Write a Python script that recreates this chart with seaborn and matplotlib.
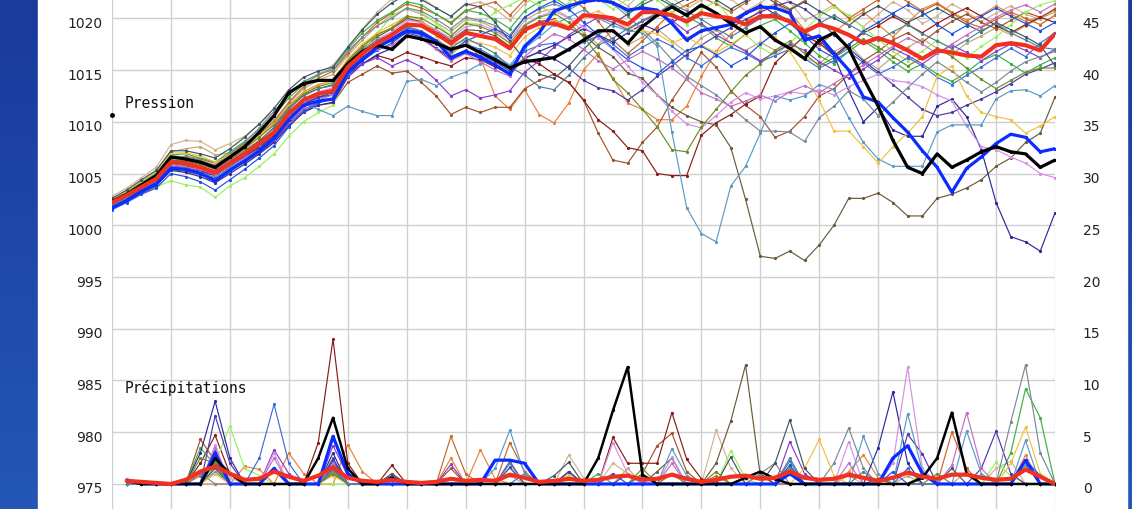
import numpy as np
import pandas as pd
import matplotlib
matplotlib.use("Agg")
import matplotlib.pyplot as plt
import matplotlib.transforms as mtransforms
from matplotlib.colors import LinearSegmentedColormap
import seaborn as sns

# forecast steps (6h), 0..64
steps = list(range(65))
precip_steps = list(range(1, 65))

# ---- pressure (hPa) ----
mean_p = [1002.2, 1002.9, 1003.7, 1004.5, 1006.1, 1006.0, 1005.6, 1005.1, 1006.0, 1006.9, 1007.9, 1009.0, 1010.8,
          1012.1, 1012.7, 1013.0, 1015.3, 1016.6, 1017.6, 1018.4, 1019.4, 1019.3, 1018.5, 1017.6, 1018.6, 1018.3,
          1018.0, 1017.1, 1018.9, 1019.5, 1019.5, 1019.0, 1020.3, 1020.2, 1020.0, 1019.4, 1020.6, 1020.6, 1020.3,
          1019.7, 1020.5, 1020.2, 1020.0, 1019.4, 1020.2, 1020.2, 1019.7, 1018.7, 1019.4, 1019.0, 1018.4, 1017.6,
          1018.1, 1017.6, 1016.9, 1016.1, 1016.9, 1016.7, 1016.4, 1016.3, 1017.4, 1017.6, 1017.4, 1016.9, 1018.5]
control_p = [1002.3, 1003.0, 1003.9, 1004.8, 1006.6, 1006.4, 1006.1, 1005.6, 1006.6, 1007.6, 1009.0, 1010.6, 1012.8,
             1013.7, 1014.0, 1014.0, 1015.6, 1016.8, 1017.4, 1017.0, 1018.3, 1018.0, 1017.6, 1017.0, 1017.4, 1016.7,
             1016.0, 1015.2, 1015.8, 1016.0, 1016.2, 1017.0, 1017.9, 1018.8, 1018.8, 1017.6, 1019.2, 1020.3, 1021.1,
             1020.3, 1021.3, 1020.5, 1019.5, 1018.6, 1019.2, 1017.9, 1017.1, 1016.1, 1017.9, 1018.6, 1017.1, 1014.2,
             1011.5, 1008.2, 1005.6, 1005.0, 1006.9, 1005.6, 1006.3, 1007.1, 1007.6, 1007.1, 1006.9, 1005.6, 1006.3]
oper_p = [1001.7, 1002.4, 1003.3, 1004.0, 1005.5, 1005.4, 1005.0, 1004.3, 1005.3, 1006.2, 1007.2, 1008.4, 1010.2,
          1011.6, 1012.0, 1012.2, 1014.8, 1016.0, 1017.2, 1018.0, 1018.8, 1018.6, 1017.8, 1016.2, 1016.8, 1016.2,
          1015.5, 1014.6, 1017.3, 1018.6, 1020.7, 1021.2, 1021.6, 1021.8, 1021.5, 1020.8, 1021.0, 1020.8, 1019.5,
          1017.9, 1018.8, 1019.1, 1019.4, 1020.5, 1021.1, 1021.0, 1020.5, 1017.9, 1018.3, 1016.6, 1015.0, 1012.4,
          1011.9, 1010.4, 1009.0, 1007.2, 1005.6, 1003.2, 1005.5, 1006.6, 1007.9, 1008.8, 1008.5, 1007.1, 1007.4]

tan_p = [1002.8, 1003.6, 1004.6, 1005.6, 1007.8, 1008.2, 1008.1, 1007.3, 1007.9, 1008.6, 1009.8, 1011.0, 1012.6,
         1013.8, 1014.6, 1015.5, 1017.2, 1019.0, 1020.6, 1021.9, 1022.4, 1022.0, 1021.0, 1020.2, 1021.3, 1021.6,
         1020.9, 1019.8, 1021.4, 1022.3, 1022.8, 1021.9, 1022.6, 1023.0, 1022.1, 1021.2, 1022.5, 1023.1, 1022.0,
         1020.9, 1021.8, 1022.6, 1021.9, 1020.7, 1021.5, 1022.4, 1021.6, 1019.8, 1020.5, 1021.3, 1020.1, 1019.2,
         1020.4, 1021.6, 1020.8, 1019.5, 1020.2, 1021.4, 1020.6, 1019.7, 1020.5, 1021.2, 1020.4, 1019.9, 1021.0]
khaki_p = [1002.6, 1003.3, 1004.2, 1005.1, 1007.1, 1007.4, 1007.6, 1006.8, 1007.0, 1007.8, 1008.9, 1010.2, 1011.8,
           1013.2, 1014.0, 1014.6, 1016.4, 1017.9, 1019.3, 1020.3, 1020.9, 1020.4, 1019.6, 1018.7, 1019.9, 1019.7,
           1019.0, 1017.9, 1019.8, 1020.6, 1020.9, 1020.1, 1018.6, 1017.5, 1018.9, 1017.4, 1018.2, 1019.0, 1017.8,
           1016.7, 1018.1, 1018.9, 1017.6, 1016.9, 1017.7, 1016.9, 1017.4, 1016.2, 1015.6, 1016.8, 1017.5, 1016.0,
           1015.1, 1016.3, 1017.2, 1018.0, 1017.1, 1016.5, 1017.6, 1018.3, 1019.1, 1018.4, 1019.3, 1020.0, 1020.6]
orange_p = [1002.4, 1003.1, 1004.0, 1004.8, 1006.5, 1006.5, 1006.2, 1005.6, 1006.5, 1007.4, 1008.6, 1009.8, 1011.6,
            1012.9, 1013.6, 1014.0, 1016.0, 1017.4, 1018.5, 1019.0, 1019.9, 1019.6, 1018.6, 1017.4, 1017.9, 1016.2,
            1012.5, 1011.2, 1013.1, 1010.7, 1009.9, 1011.8, 1015.0, 1016.6, 1014.2, 1011.8, 1011.2, 1010.2, 1010.2,
            1011.5, 1014.4, 1016.8, 1018.5, 1019.6, 1020.8, 1021.4, 1020.6, 1018.9, 1017.4, 1018.6, 1019.8, 1020.6,
            1019.4, 1018.2, 1019.6, 1020.9, 1021.5, 1020.6, 1019.8, 1020.3, 1021.2, 1020.4, 1019.7, 1020.1, 1020.8]
choco_p = [1002.0, 1002.8, 1003.8, 1004.7, 1006.4, 1006.7, 1006.4, 1006.0, 1006.9, 1007.9, 1008.8, 1010.0, 1011.9,
           1013.4, 1014.2, 1014.9, 1016.6, 1018.2, 1019.6, 1020.5, 1021.4, 1021.0, 1020.4, 1019.5, 1020.7, 1021.2,
           1021.6, 1020.3, 1021.8, 1022.5, 1023.0, 1022.2, 1021.0, 1019.7, 1017.9, 1016.6, 1017.8, 1019.2, 1020.6,
           1021.3, 1022.0, 1021.4, 1020.6, 1021.5, 1022.3, 1021.8, 1020.9, 1021.7, 1022.4, 1021.2, 1020.0, 1020.9,
           1021.8, 1022.4, 1021.6, 1020.7, 1021.4, 1020.5, 1019.6, 1019.1, 1019.9, 1020.6, 1020.0, 1019.4, 1020.3]
sienna_p = [1001.9, 1002.6, 1003.3, 1004.0, 1005.4, 1005.2, 1004.9, 1004.4, 1005.3, 1006.1, 1007.0, 1008.1, 1009.8,
            1011.0, 1011.6, 1011.8, 1013.8, 1014.6, 1015.4, 1014.7, 1014.9, 1013.8, 1012.5, 1010.7, 1011.4, 1010.9,
            1011.4, 1011.4, 1013.2, 1014.0, 1014.6, 1013.8, 1012.1, 1008.9, 1006.3, 1006.0, 1008.0, 1009.5, 1012.1,
            1014.2, 1016.7, 1015.3, 1013.0, 1011.6, 1010.5, 1008.5, 1009.1, 1010.5, 1012.5, 1013.2, 1014.6, 1015.9,
            1016.8, 1017.9, 1018.6, 1017.7, 1018.8, 1019.7, 1020.4, 1019.6, 1019.0, 1019.8, 1020.6, 1020.1, 1020.9]
maroon_p = [1002.1, 1002.8, 1003.6, 1004.3, 1005.9, 1005.8, 1005.3, 1004.8, 1005.8, 1006.7, 1007.6, 1008.7, 1010.4,
            1011.7, 1012.4, 1012.6, 1014.6, 1015.6, 1016.4, 1016.0, 1016.7, 1016.3, 1015.8, 1015.4, 1016.2, 1016.0,
            1015.3, 1014.7, 1016.1, 1015.6, 1014.6, 1013.8, 1012.1, 1010.2, 1009.1, 1007.5, 1007.2, 1005.0, 1004.8,
            1004.8, 1008.7, 1009.9, 1010.7, 1011.7, 1012.5, 1015.7, 1017.0, 1018.3, 1017.6, 1016.4, 1017.5, 1018.6,
            1019.3, 1020.2, 1019.4, 1018.6, 1019.5, 1020.3, 1021.0, 1020.2, 1019.3, 1018.6, 1019.4, 1020.1, 1019.6]
olive_p = [1002.3, 1003.0, 1003.9, 1004.7, 1006.3, 1006.2, 1005.9, 1005.4, 1006.3, 1007.2, 1008.2, 1009.4, 1011.2,
           1012.6, 1013.2, 1013.6, 1015.8, 1017.1, 1018.2, 1019.0, 1020.0, 1019.7, 1018.8, 1017.9, 1018.9, 1018.8,
           1018.3, 1017.3, 1018.8, 1019.7, 1019.9, 1019.1, 1018.4, 1017.2, 1016.3, 1014.7, 1014.2, 1012.6, 1011.4,
           1010.6, 1010.0, 1009.7, 1007.5, 1002.5, 997.0, 996.8, 997.5, 996.6, 998.1, 1000.0, 1002.6, 1002.6,
           1003.1, 1002.2, 1000.9, 1000.9, 1002.6, 1003.0, 1003.6, 1004.4, 1005.7, 1006.5, 1008.0, 1008.9, 1012.4]
green_p = [1002.5, 1003.2, 1004.1, 1005.0, 1006.8, 1006.9, 1006.5, 1006.1, 1007.1, 1008.1, 1009.3, 1010.6, 1012.3,
           1013.6, 1014.5, 1015.2, 1017.0, 1018.6, 1019.8, 1020.6, 1021.6, 1021.3, 1020.4, 1019.6, 1020.8, 1020.5,
           1019.9, 1019.0, 1020.7, 1021.6, 1022.0, 1021.1, 1021.9, 1022.4, 1021.6, 1020.5, 1021.6, 1022.3, 1021.4,
           1020.2, 1019.4, 1018.1, 1017.3, 1018.5, 1019.3, 1019.9, 1018.8, 1017.6, 1016.4, 1015.6, 1016.8, 1017.8,
           1016.9, 1015.8, 1014.9, 1015.6, 1014.6, 1013.9, 1014.8, 1015.9, 1016.5, 1015.6, 1014.7, 1015.5, 1016.2]
lime_p = [1002.0, 1002.5, 1003.2, 1003.7, 1004.3, 1003.9, 1003.7, 1002.7, 1003.8, 1004.6, 1005.7, 1006.9, 1008.6,
          1010.0, 1010.9, 1011.6, 1014.6, 1016.8, 1018.6, 1020.2, 1021.0, 1020.6, 1019.5, 1018.3, 1019.6, 1019.4,
          1020.6, 1021.3, 1022.0, 1021.2, 1020.4, 1021.5, 1022.6, 1021.8, 1020.9, 1021.9, 1022.8, 1021.8, 1020.6,
          1019.4, 1020.8, 1021.7, 1019.9, 1018.4, 1017.2, 1016.4, 1017.6, 1018.9, 1020.2, 1021.1, 1020.3, 1019.1,
          1018.0, 1016.8, 1015.9, 1016.8, 1017.9, 1017.0, 1016.2, 1017.3, 1018.2, 1019.4, 1020.6, 1021.3, 1021.7]
midblue_p = [1001.8, 1002.5, 1003.4, 1004.1, 1005.6, 1005.5, 1005.1, 1004.6, 1005.5, 1006.4, 1007.4, 1008.5, 1010.3,
             1011.6, 1012.3, 1012.6, 1014.9, 1016.2, 1017.3, 1018.0, 1019.1, 1018.7, 1017.8, 1016.6, 1017.5, 1017.0,
             1016.2, 1015.3, 1016.8, 1017.4, 1017.6, 1016.9, 1017.7, 1018.3, 1017.5, 1016.3, 1017.2, 1018.0, 1017.3,
             1016.2, 1015.4, 1016.4, 1017.2, 1016.6, 1015.8, 1016.4, 1017.0, 1016.1, 1015.2, 1015.9, 1016.8, 1015.7,
             1014.6, 1015.3, 1016.2, 1015.4, 1014.3, 1013.6, 1014.5, 1015.3, 1016.2, 1017.1, 1016.3, 1017.6, 1018.6]
darkblue_p = [1001.6, 1002.3, 1003.1, 1003.8, 1005.3, 1005.1, 1004.7, 1004.1, 1005.0, 1005.9, 1006.9, 1008.0, 1009.6,
              1010.9, 1011.6, 1011.9, 1014.3, 1015.6, 1016.5, 1017.1, 1018.3, 1018.0, 1017.1, 1016.0, 1016.7, 1016.3,
              1015.5, 1014.6, 1016.1, 1016.8, 1017.4, 1018.2, 1019.0, 1018.4, 1017.7, 1018.6, 1019.4, 1018.8, 1019.6,
              1020.4, 1021.2, 1020.5, 1019.8, 1020.6, 1021.3, 1020.4, 1019.6, 1018.5, 1017.9, 1016.4, 1013.0, 1010.0,
              1011.4, 1009.2, 1008.6, 1008.6, 1011.5, 1012.2, 1010.5, 1007.3, 1002.2, 998.9, 998.4, 997.5, 1001.2]
indigo_p = [1001.7, 1002.4, 1003.2, 1004.0, 1005.7, 1005.6, 1005.2, 1004.8, 1005.7, 1006.6, 1007.5, 1008.6, 1010.4,
            1011.8, 1012.4, 1012.8, 1015.0, 1016.3, 1017.2, 1017.8, 1018.6, 1018.2, 1017.1, 1016.3, 1016.9, 1016.4,
            1015.8, 1014.9, 1016.2, 1016.7, 1016.1, 1015.2, 1014.0, 1013.3, 1013.0, 1012.1, 1013.1, 1014.4, 1015.4,
            1016.5, 1017.4, 1018.3, 1019.1, 1019.9, 1020.6, 1021.2, 1021.6, 1020.9, 1019.8, 1018.4, 1017.1, 1015.9,
            1014.8, 1013.6, 1012.4, 1011.2, 1010.6, 1010.9, 1011.6, 1012.2, 1012.9, 1013.7, 1014.6, 1015.1, 1015.7]
purple_p = [1002.0, 1002.7, 1003.5, 1004.2, 1005.7, 1005.4, 1005.0, 1004.4, 1005.3, 1006.2, 1007.1, 1008.2, 1009.9,
            1011.2, 1011.9, 1012.2, 1014.4, 1015.6, 1016.2, 1015.4, 1016.0, 1015.3, 1014.0, 1012.5, 1013.1, 1012.3,
            1012.6, 1013.0, 1014.8, 1015.9, 1017.2, 1018.4, 1019.3, 1020.1, 1019.6, 1018.9, 1019.7, 1020.4, 1019.8,
            1018.7, 1019.5, 1018.4, 1017.6, 1016.8, 1015.9, 1016.7, 1017.5, 1016.9, 1015.8, 1015.0, 1014.2, 1015.1,
            1016.0, 1017.1, 1016.4, 1015.6, 1016.6, 1017.4, 1016.7, 1015.9, 1016.8, 1017.5, 1016.9, 1016.2, 1017.0]
violet_p = [1002.3, 1003.0, 1003.9, 1004.6, 1006.2, 1006.0, 1005.7, 1005.3, 1006.2, 1007.1, 1008.0, 1009.1, 1010.9,
            1012.2, 1012.9, 1013.3, 1015.5, 1016.9, 1018.0, 1018.7, 1019.8, 1019.6, 1018.9, 1018.1, 1019.2, 1019.4,
            1018.8, 1017.9, 1019.4, 1020.2, 1020.7, 1020.0, 1019.2, 1018.1, 1017.0, 1015.4, 1013.8, 1012.6, 1011.0,
            1009.8, 1009.4, 1010.6, 1011.9, 1012.8, 1012.2, 1012.5, 1012.9, 1012.7, 1013.1, 1012.6, 1013.4, 1014.0,
            1014.6, 1014.0, 1013.8, 1013.4, 1012.6, 1012.0, 1009.6, 1007.6, 1007.3, 1006.6, 1006.0, 1005.0, 1004.6]
steel_p = [1001.9, 1002.6, 1003.5, 1004.3, 1005.9, 1005.9, 1005.5, 1005.0, 1005.9, 1006.8, 1007.8, 1009.0, 1010.6,
           1011.8, 1011.2, 1010.6, 1011.5, 1011.0, 1010.6, 1010.6, 1013.9, 1014.1, 1013.5, 1014.3, 1014.8, 1015.6,
           1016.4, 1015.5, 1017.1, 1018.2, 1019.4, 1020.1, 1020.8, 1020.0, 1019.3, 1018.8, 1018.6, 1017.3, 1009.0,
           1001.7, 999.2, 998.4, 1003.8, 1005.7, 1008.9, 1012.5, 1012.1, 1012.5, 1013.6, 1013.1, 1010.4, 1008.0,
           1006.4, 1005.7, 1005.7, 1005.7, 1009.0, 1009.7, 1009.7, 1009.7, 1012.2, 1013.0, 1013.1, 1012.5, 1013.5]
gray_p = [1002.4, 1003.1, 1004.0, 1004.8, 1006.7, 1006.6, 1006.3, 1005.8, 1006.9, 1008.0, 1009.4, 1011.0, 1012.7,
          1013.9, 1014.6, 1015.0, 1016.8, 1018.2, 1019.3, 1020.0, 1021.0, 1020.7, 1019.9, 1019.0, 1020.1, 1019.8,
          1019.3, 1018.4, 1020.1, 1020.9, 1021.4, 1020.8, 1021.6, 1022.2, 1021.4, 1020.2, 1018.9, 1017.6, 1016.0,
          1014.4, 1013.5, 1012.6, 1011.4, 1010.2, 1009.1, 1009.1, 1009.0, 1008.1, 1010.4, 1011.5, 1013.0, 1012.2,
          1010.6, 1011.9, 1013.3, 1014.6, 1015.8, 1014.9, 1013.8, 1012.9, 1013.8, 1014.9, 1015.8, 1016.3, 1016.8]
gold_p = [1002.5, 1003.3, 1004.3, 1005.2, 1007.0, 1007.0, 1006.7, 1006.1, 1006.8, 1007.6, 1008.6, 1009.8, 1011.5,
          1012.8, 1013.5, 1014.0, 1016.1, 1017.5, 1018.6, 1019.4, 1020.2, 1019.9, 1018.3, 1016.4, 1017.8, 1017.6,
          1017.2, 1016.4, 1018.2, 1019.1, 1019.8, 1019.3, 1020.2, 1020.7, 1019.9, 1019.0, 1018.8, 1018.5, 1017.6,
          1018.2, 1017.4, 1016.7, 1017.5, 1018.4, 1019.3, 1018.2, 1016.8, 1014.6, 1012.1, 1009.1, 1009.1, 1007.6,
          1006.0, 1007.6, 1008.9, 1010.5, 1014.4, 1015.4, 1012.5, 1010.9, 1010.5, 1010.2, 1008.9, 1009.6, 1010.5]
slate_p = [1002.6, 1003.4, 1004.4, 1005.3, 1007.2, 1007.2, 1006.9, 1006.5, 1007.4, 1008.5, 1009.8, 1011.3, 1013.1,
           1014.3, 1014.9, 1015.3, 1017.2, 1018.9, 1020.4, 1021.5, 1022.3, 1021.8, 1021.0, 1020.2, 1021.4, 1021.1,
           1019.6, 1017.8, 1016.0, 1014.6, 1014.2, 1015.4, 1017.0, 1018.4, 1019.5, 1020.4, 1021.3, 1022.0, 1021.2,
           1021.9, 1022.6, 1021.8, 1020.9, 1021.7, 1022.4, 1021.5, 1020.8, 1021.6, 1020.7, 1020.0, 1019.3, 1020.4,
           1021.2, 1020.4, 1019.6, 1020.3, 1021.0, 1020.2, 1019.4, 1018.7, 1019.6, 1018.9, 1018.2, 1017.4, 1015.4]
olivegreen_p = [1002.2, 1002.9, 1003.8, 1004.6, 1006.3, 1006.3, 1005.9, 1005.5, 1006.4, 1007.4, 1008.5, 1009.7, 1011.4,
                1012.7, 1013.4, 1013.8, 1015.9, 1017.3, 1018.4, 1019.1, 1020.2, 1020.0, 1019.2, 1018.3, 1019.5, 1019.2,
                1018.6, 1017.6, 1019.3, 1020.1, 1020.5, 1019.6, 1018.2, 1016.4, 1014.1, 1012.8, 1011.2, 1009.5, 1007.3,
                1007.1, 1009.5, 1011.2, 1012.9, 1014.5, 1015.6, 1016.9, 1017.8, 1016.6, 1015.4, 1016.2, 1017.1, 1018.0,
                1017.2, 1016.3, 1015.4, 1016.2, 1017.1, 1016.3, 1015.2, 1014.1, 1013.2, 1014.0, 1014.8, 1015.2, 1015.2]
royal_p = [1001.5, 1002.2, 1003.0, 1003.6, 1005.0, 1004.7, 1004.2, 1003.4, 1004.4, 1005.4, 1006.5, 1007.7, 1009.5,
           1011.0, 1011.8, 1012.3, 1014.5, 1015.9, 1016.9, 1017.6, 1018.7, 1018.4, 1017.5, 1016.8, 1017.8, 1018.4,
           1019.0, 1018.2, 1020.1, 1021.0, 1021.7, 1020.9, 1019.6, 1018.4, 1017.1, 1016.0, 1015.2, 1014.6, 1015.8,
           1016.9, 1017.3, 1016.5, 1015.4, 1016.2, 1017.5, 1018.6, 1019.5, 1018.3, 1017.0, 1016.2, 1017.4, 1018.8,
           1019.6, 1020.5, 1021.3, 1020.6, 1019.4, 1018.5, 1019.3, 1020.2, 1021.0, 1020.2, 1019.5, 1018.8, 1019.6]
plum_p = [1002.1, 1002.8, 1003.6, 1004.4, 1005.9, 1005.6, 1005.4, 1004.9, 1005.7, 1006.5, 1007.3, 1008.4, 1010.1,
          1011.4, 1012.1, 1012.6, 1014.7, 1016.0, 1017.0, 1017.4, 1018.4, 1018.1, 1017.0, 1015.9, 1016.6, 1015.8,
          1015.0, 1014.4, 1016.3, 1017.5, 1018.5, 1018.0, 1017.0, 1015.9, 1015.1, 1016.0, 1016.8, 1016.1, 1015.2,
          1014.1, 1012.8, 1012.2, 1011.5, 1012.0, 1012.6, 1012.0, 1012.9, 1013.5, 1012.8, 1013.7, 1014.6, 1015.5,
          1016.4, 1017.3, 1018.1, 1017.5, 1016.6, 1017.5, 1018.4, 1019.2, 1020.1, 1020.8, 1021.3, 1020.6, 1021.4]
teal_p = [1002.0, 1002.7, 1003.4, 1004.1, 1005.7, 1005.5, 1005.1, 1004.5, 1005.6, 1006.8, 1008.1, 1009.5, 1011.3,
          1012.5, 1013.2, 1013.5, 1015.6, 1016.9, 1017.9, 1018.5, 1019.2, 1018.8, 1017.9, 1017.1, 1018.1, 1017.4,
          1016.6, 1015.3, 1014.5, 1013.4, 1013.1, 1014.5, 1016.2, 1017.4, 1018.1, 1019.0, 1019.8, 1020.5, 1021.4,
          1020.7, 1019.9, 1019.0, 1018.2, 1019.1, 1020.0, 1020.6, 1019.7, 1018.8, 1019.5, 1020.3, 1019.4, 1018.6,
          1017.9, 1018.7, 1019.4, 1018.5, 1017.8, 1017.1, 1017.9, 1018.8, 1019.5, 1018.6, 1017.9, 1017.2, 1017.0]

# ---- precipitation (mm), steps 1..64 ----
mean_r = [0.3, 0.2, 0.1, 0.0, 0.4, 1.2, 1.7, 1.0, 0.4, 0.5, 1.2, 0.7,
          0.3, 0.8, 1.6, 0.6, 0.3, 0.2, 0.4, 0.2, 0.1, 0.2, 0.5, 0.3, 0.4,
          0.3, 0.9, 0.6, 0.2, 0.3, 0.5, 0.3, 0.4, 0.7, 0.8, 0.4, 0.5, 0.9,
          0.5, 0.2, 0.4, 0.7, 0.8, 0.5, 0.6, 1.2, 0.6, 0.4, 0.5, 0.9, 0.6,
          0.3, 0.6, 1.1, 0.7, 0.5, 0.9, 0.9, 0.6, 0.4, 0.5, 1.4, 0.7, 0.0]
# members: only the steps with rain are listed, the rest is 0
control_r = {1: 0.3, 7: 2.5, 8: 1.0, 14: 2.5, 15: 6.4, 16: 1.5, 19: 0.6, 33: 2.5, 34: 7.1, 35: 11.3, 36: 0.9,
             43: 0.6, 44: 1.2, 45: 0.5, 55: 0.6, 56: 2.5, 57: 6.9, 58: 1.0}
oper_r = {1: 0.4, 7: 3.0, 11: 1.5, 15: 4.6, 16: 1.0, 26: 2.3, 27: 2.3, 28: 2.0, 46: 1.0, 53: 2.5, 54: 3.7,
          55: 1.0, 62: 2.3}
tan_r = {6: 1.2, 7: 2.0, 8: 0.6, 15: 1.0, 31: 2.8, 32: 0.6, 34: 2.0, 35: 1.0, 41: 5.2, 42: 1.5, 50: 0.8,
         60: 1.5, 61: 2.2}
khaki_r = {7: 1.0, 15: 1.4, 27: 0.8, 35: 1.5, 38: 1.0, 46: 1.8, 54: 0.8, 58: 1.2}
orange_r = {9: 1.7, 10: 1.4, 12: 3.0, 13: 1.0, 16: 3.8, 17: 1.2, 23: 2.5, 25: 3.3, 26: 0.5, 50: 1.2, 51: 2.8,
            52: 0.6, 62: 2.8}
choco_r = {6: 0.8, 7: 1.5, 15: 2.0, 23: 4.6, 24: 1.0, 27: 4.0, 28: 1.2, 41: 0.8, 57: 5.0, 58: 1.5}
sienna_r = {6: 4.3, 7: 2.2, 15: 2.5, 23: 1.5, 36: 1.0, 37: 3.7, 38: 4.9, 39: 1.2, 46: 1.5, 55: 0.8}
maroon_r = {6: 2.0, 7: 4.7, 8: 1.0, 14: 4.0, 15: 14.0, 16: 2.0, 19: 1.8, 34: 4.5, 35: 2.0, 36: 2.0, 37: 2.0,
            38: 6.9, 39: 2.4, 40: 0.5, 44: 1.0}
olive_r = {7: 1.5, 15: 1.0, 37: 1.2, 38: 2.5, 41: 2.0, 42: 6.1, 43: 11.5, 44: 0.8, 52: 0.5}
green_r = {6: 3.5, 7: 1.8, 15: 1.2, 33: 1.0, 46: 1.5, 61: 3.0, 62: 9.2, 63: 6.4}
lime_r = {7: 2.0, 8: 5.6, 9: 1.5, 10: 0.8, 31: 1.0, 42: 3.2, 43: 0.5, 55: 1.0, 60: 2.1, 61: 0.8}
midblue_r = {7: 2.2, 10: 2.5, 11: 7.7, 12: 2.0, 15: 1.8, 28: 1.0, 46: 2.2, 54: 1.5}
darkblue_r = {6: 3.0, 7: 8.0, 8: 2.5, 15: 3.0, 31: 1.2, 46: 1.0, 52: 3.5, 53: 8.9, 54: 2.0}
indigo_r = {7: 6.6, 8: 2.0, 15: 2.2, 19: 0.8, 31: 1.2, 35: 1.0, 54: 4.8, 55: 2.9, 59: 1.5, 60: 5.1, 61: 1.0}
purple_r = {7: 3.0, 11: 3.3, 12: 1.0, 15: 3.7, 16: 0.8, 23: 1.9, 27: 2.2, 46: 4.1, 47: 1.0}
violet_r = {7: 3.8, 11: 3.0, 15: 2.0, 34: 4.0, 35: 1.0, 38: 2.6, 50: 4.1, 53: 2.0, 54: 11.3, 55: 1.5}
steel_r = {7: 1.2, 15: 1.5, 26: 1.5, 27: 5.2, 28: 1.0, 38: 3.4, 39: 0.8, 51: 4.6, 52: 1.0, 54: 6.8, 55: 1.2,
           58: 5.1, 59: 1.0, 62: 4.2}
gray_r = {6: 1.0, 15: 1.2, 44: 1.0, 45: 2.0, 49: 2.0, 50: 5.4, 51: 1.5, 61: 6.0, 62: 11.5, 63: 3.0}
gold_r = {7: 1.0, 15: 0.8, 27: 1.5, 31: 0.8, 47: 1.5, 48: 4.3, 49: 0.8, 61: 2.0, 62: 5.5, 63: 1.0}
slate_r = {7: 2.5, 15: 1.5, 19: 1.0, 30: 0.8, 31: 2.1, 42: 2.6, 45: 2.0, 46: 6.2, 47: 1.5, 57: 1.5}
olivegreen_r = {6: 2.5, 7: 2.0, 15: 1.0, 36: 1.5, 38: 1.0, 41: 1.2, 56: 1.0}
royal_r = {7: 3.2, 15: 2.4, 27: 1.6, 34: 1.0, 46: 1.8, 53: 1.2, 62: 2.3, 63: 0.8}
plum_r = {7: 3.5, 11: 2.5, 15: 2.0, 38: 2.0, 50: 2.0, 57: 1.8, 58: 6.9, 59: 1.5}
teal_r = {7: 1.6, 15: 1.4, 27: 2.0, 36: 0.8, 46: 2.5, 51: 1.2, 62: 1.8}

members = [
    ("#d2b48c", tan_p, tan_r), ("#bfa87a", khaki_p, khaki_r), ("#e8803a", orange_p, orange_r),
    ("#c8652a", choco_p, choco_r), ("#a0522d", sienna_p, sienna_r), ("#8b1a1a", maroon_p, maroon_r),
    ("#6b5a3a", olive_p, olive_r), ("#3cb043", green_p, green_r), ("#9af060", lime_p, lime_r),
    ("#3a6fd8", midblue_p, midblue_r), ("#2a2a9a", darkblue_p, darkblue_r), ("#4b3aa8", indigo_p, indigo_r),
    ("#8a3cc8", purple_p, purple_r), ("#d68ee8", violet_p, violet_r), ("#5a9ac8", steel_p, steel_r),
    ("#7a8a96", gray_p, gray_r), ("#f0c040", gold_p, gold_r), ("#3d5566", slate_p, slate_r),
    ("#6b8e23", olivegreen_p, olivegreen_r), ("#2050e0", royal_p, royal_r), ("#c070c0", plum_p, plum_r),
    ("#508090", teal_p, teal_r),
]

W, H = 1132, 509
fig = plt.figure(figsize=(W / 100, H / 100), dpi=100)

# background: blue frame on the sides
bg = fig.add_axes([0, 0, 1, 1])
bg.set_xlim(0, W)
bg.set_ylim(H, 0)
bg.axis("off")
grad = np.linspace(0, 1, 256).reshape(-1, 1)
frame_cmap = LinearSegmentedColormap.from_list("frame", ["#1a3a9c", "#2457b6"])
bg.imshow(grad, cmap=frame_cmap, extent=[0, 38, H, 0], aspect="auto")
bg.imshow(grad, cmap=frame_cmap, extent=[1127, W, H, 0], aspect="auto")
bg.add_patch(plt.Rectangle((38, 0), 1127 - 38, H, color="white"))

sns.set_style("white")

ax = fig.add_axes([112 / W, 0, 943 / W, 1])
ax.set_facecolor("white")
ylo, yhi = 972.58, 1021.77
ax.set_xlim(0, 64)
ax.set_ylim(ylo, yhi)
ax.set_xticks(range(0, 65, 4))
ax.set_yticks(range(975, 1021, 5))
ax.set_xticklabels([])
ax.grid(True, color="#d0d0d0", lw=1.0)
ax.set_axisbelow(True)
for s in ax.spines.values():
    s.set_visible(False)
ax.tick_params(axis="both", length=0)
ax.tick_params(axis="y", labelsize=10, labelcolor="#222222", pad=6.5)

ax2 = ax.twinx()
ax2.set_ylim(ylo - 975, yhi - 975)
ax2.set_yticks(range(0, 46, 5))
for s in ax2.spines.values():
    s.set_visible(False)
ax2.tick_params(axis="y", length=0, labelsize=10, labelcolor="#222222", pad=20)

thin = dict(lw=0.85, marker="o", markersize=2.3, markeredgewidth=0)

for col, p, r in members:
    sns.lineplot(x=steps, y=p, ax=ax, color=col, **thin)
    rain = [r.get(i, 0.0) for i in precip_steps]
    sns.lineplot(x=precip_steps, y=rain, ax=ax2, color=col, **thin)

oper_rain = [oper_r.get(i, 0.0) for i in precip_steps]
ctrl_rain = [control_r.get(i, 0.0) for i in precip_steps]
sns.lineplot(x=steps, y=oper_p, ax=ax, color="#0a2cff", lw=2.3, marker="o", markersize=2.3, markeredgewidth=0)
sns.lineplot(x=steps, y=control_p, ax=ax, color="black", lw=2.3, marker="o", markersize=2.3, markeredgewidth=0)
sns.lineplot(x=steps, y=mean_p, ax=ax, color="#f03020", lw=3.0)
sns.lineplot(x=precip_steps, y=oper_rain, ax=ax2, color="#0a2cff", lw=2.3, marker="o", markersize=2.3,
             markeredgewidth=0)
sns.lineplot(x=precip_steps, y=ctrl_rain, ax=ax2, color="black", lw=1.8, marker="o", markersize=2.3,
             markeredgewidth=0)
sns.lineplot(x=precip_steps, y=mean_r, ax=ax2, color="#f03020", lw=3.0)

# labels
ax.plot([0], [1010.64], marker="o", color="black", markersize=2.5, clip_on=False, zorder=5)
ax.text(0.88, 1011.8, "Pression", family="DejaVu Sans Mono", fontsize=10.5, va="center", ha="left",
        color="#111111")
ax.text(0.88, 984.3, "Précipitations", family="DejaVu Sans Mono", fontsize=10.5, va="center", ha="left",
        color="#111111")

# tick labels sit a bit under their grid lines
shift = mtransforms.ScaledTranslation(0, -4 / 100, fig.dpi_scale_trans)
for lab in ax.get_yticklabels() + ax2.get_yticklabels():
    lab.set_transform(lab.get_transform() + shift)
for lab in ax2.get_yticklabels():
    lab.set_horizontalalignment("left")

fig.savefig("out.png", dpi=100)
